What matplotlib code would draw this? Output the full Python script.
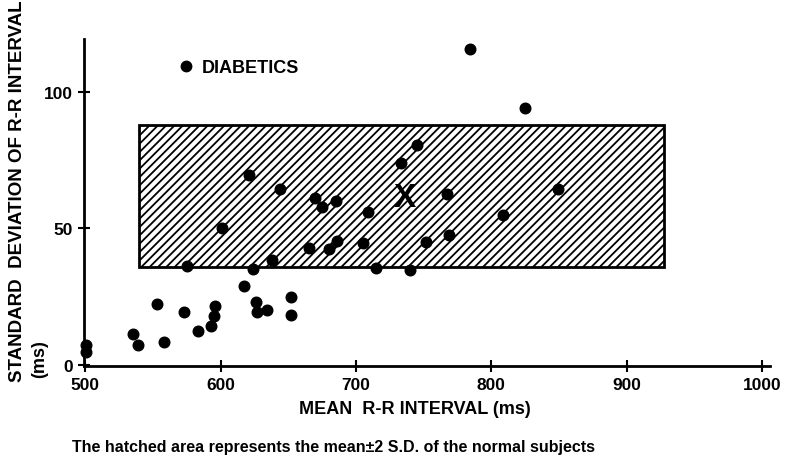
import matplotlib
matplotlib.use("Agg")
import matplotlib.pyplot as plt
from matplotlib.patches import Rectangle
from matplotlib.lines import Line2D

# ---- data ----
mean_rr = [621, 644, 670, 675, 685, 709, 733, 745, 601, 665, 680, 686, 705, 752,
           638, 575, 624, 715, 740, 617, 553, 573, 596, 595, 593, 583, 626, 627,
           634, 652, 652, 535, 539, 558, 500.5, 500.5, 784, 825, 767, 849, 809, 769]
sd_rr = [69.6, 64.5, 61, 58, 60, 56, 74, 80.6, 50, 43, 42.5, 45.4, 44.7, 45,
         38.5, 36.3, 35, 35.5, 34.8, 29, 22.3, 19.4, 21.6, 18, 14.3, 12.5, 23, 19.4,
         20, 25, 18.3, 11.4, 7.3, 8.4, 7.3, 4.8, 115.7, 94, 62.6, 64.5, 55, 47.6]
mean_marker = (736, 61.5)          # the "X" mark
normal_x = (540, 928)              # mean +/- 2 SD of normal subjects, x range
normal_y = (36, 88)                # y range
x_ticks = [500, 600, 700, 800, 900, 1000]
y_ticks = [0, 50, 100]

FAM = ['Liberation Sans', 'DejaVu Sans']
plt.rcParams['hatch.linewidth'] = 1.3
W, H = 785, 464
fig = plt.figure(figsize=(W / 100, H / 100), dpi=100)
ax = fig.add_axes([84 / W, 1 - 367 / H, (770 - 84) / W, (367 - 40) / H])
ax.set_xlim(499, 1006)
ax.set_ylim(-0.4, 119.4)

rect = Rectangle((normal_x[0], normal_y[0]), normal_x[1] - normal_x[0],
                 normal_y[1] - normal_y[0], facecolor='white', edgecolor='black',
                 hatch='////', linewidth=2.0, zorder=1)
ax.add_patch(rect)

ax.scatter(mean_rr, sd_rr, s=58, color='black', zorder=3, clip_on=False)
ax.text(mean_marker[0], mean_marker[1], 'X', ha='center', va='center',
        fontsize=24, fontweight='bold', family=FAM, zorder=4)

for s in ['top', 'right']:
    ax.spines[s].set_visible(False)
for s in ['left', 'bottom']:
    ax.spines[s].set_linewidth(2.0)

ax.set_xticks(x_ticks)
ax.set_yticks(y_ticks)
ax.tick_params(direction='inout', length=8, width=1.5, pad=4)
for lab in ax.get_xticklabels() + ax.get_yticklabels():
    lab.set_family(FAM)
    lab.set_fontweight('bold')
    lab.set_fontsize(12.5)

# legend
h = Line2D([], [], marker='o', linestyle='none', color='black', markersize=7.5)
ax.legend([h], ['DIABETICS'], loc='center left', bbox_to_anchor=(0.112, 0.912),
          frameon=False, handlelength=1.0, handletextpad=0.35,
          prop={'family': FAM, 'weight': 'bold', 'size': 13})

# axis labels
fig.text(415 / W, 1 - 410 / H, 'MEAN  R-R INTERVAL (ms)', ha='center', va='center',
         fontsize=13, fontweight='bold', family=FAM)
fig.text(18 / W, 1 - 382 / H, 'STANDARD  DEVIATION OF R-R INTERVAL', rotation=90,
         ha='center', va='bottom', fontsize=13.5, fontweight='bold', family=FAM)
fig.text(40 / W, 1 - 378 / H, '(ms)', rotation=90, ha='center', va='bottom',
         fontsize=13, fontweight='bold', family=FAM)

fig.text(72 / W, 1 - 448 / H,
         'The hatched area represents the mean\u00b12 S.D. of the normal subjects',
         ha='left', va='center', fontsize=11.5, fontweight='bold', family=FAM)

fig.savefig('out.png', dpi=100)
